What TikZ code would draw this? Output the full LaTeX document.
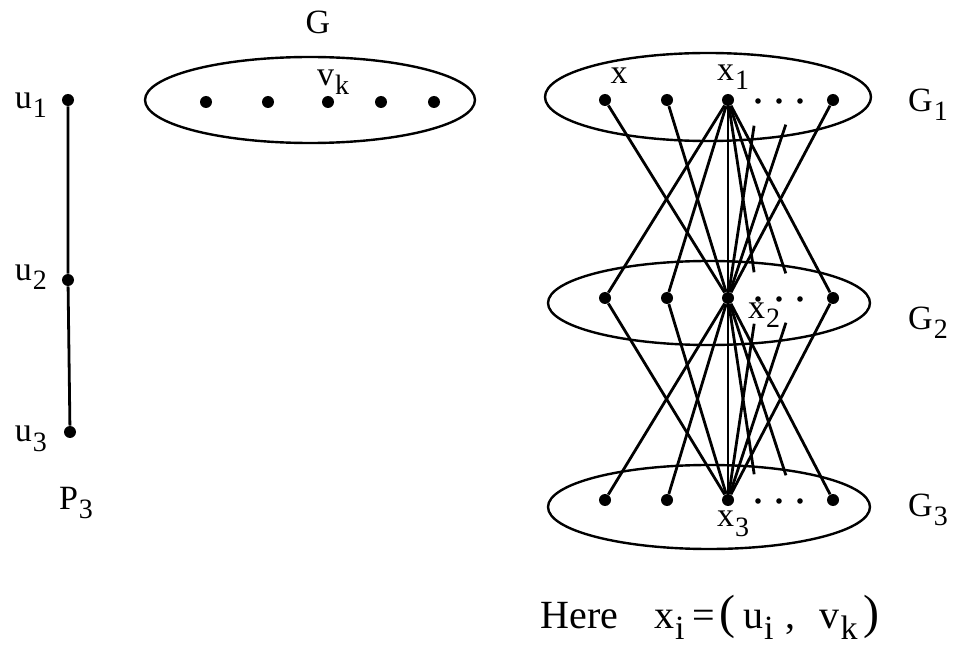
\documentclass[tikz,border=0pt]{standalone}
\usepackage{fontspec}
\setmainfont{Liberation Serif}
\usepackage{tikz}
\usetikzlibrary{shapes.geometric}
\newcommand{\idx}[3][14]{%  \idx[size]{letter}{index}
  #2\kern0.5pt\raisebox{-0.6ex}{\fontsize{#1}{#1}\selectfont #3}}
\tikzset{
  vtx/.style={circle, fill=black, inner sep=0pt, minimum size=6pt},
  dotv/.style={circle, fill=black, inner sep=0pt, minimum size=2.8pt},
  set/.style={ellipse, draw=black, line width=1.2pt, inner sep=0pt},
  edge/.style={line width=1.4pt},
  lbl/.style={font=\fontsize{17}{20}\selectfont, inner sep=0pt},
}

\begin{document}
\begin{tikzpicture}[x=0.5pt, y=-0.5pt]
        \useasboundingbox (0,0) rectangle (955,647);
        % Path P_3
        \node[vtx] (u1) at (68,100) {};
        \node[vtx] (u2) at (68,280) {};
        \node[vtx] (u3) at (70,432) {};
        \draw[edge] (u1) -- (u2) -- (u3);
        \node[lbl] (lu1) at (31,105) {\idx{u}{1}};
        \node[lbl] (lu2) at (31,277) {\idx{u}{2}};
        \node[lbl] (lu3) at (31,439) {\idx{u}{3}};
        \node[lbl] (lp3) at (76,503) {\idx{P}{3}};
        % Graph G
        \node[set, minimum width=165pt, minimum height=43pt] (G) at (310,100) {};
        \node[lbl] (lG) at (318,22) {G};
        \node[vtx] (v1) at (206,102) {};
        \node[vtx] (v2) at (268,102) {};
        \node[vtx] (v3) at (328,102) {};
        \node[vtx] (v4) at (381,102) {};
        \node[vtx] (v5) at (434,102) {};
        \node[lbl] (lvk) at (333,82) {\idx{v}{k}};
        % Copies G_1 G_2 G_3
        \node[set, minimum width=163pt, minimum height=44pt] (G1) at (708,97) {};
        \node[set, minimum width=161pt, minimum height=42pt] (G2) at (709,303) {};
        \node[set, minimum width=161pt, minimum height=42pt] (G3) at (709,507) {};
        \node[lbl] (lG1) at (928,105) {\idx{G}{1}};
        \node[lbl] (lG2) at (928,323) {\idx{G}{2}};
        \node[lbl] (lG3) at (928,510) {\idx{G}{3}};
        \foreach \l/\y in {1/100,2/298,3/500} {
          \node[vtx] (g\l-1) at (605,\y) {};
          \node[vtx] (g\l-2) at (667,\y) {};
          \node[vtx] (g\l-3) at (728,\y) {};
          \node[vtx] (g\l-4) at (833,\y) {};
          \node[dotv] (d\l-1) at (758,\y+1) {};
          \node[dotv] (d\l-2) at (779,\y+1) {};
          \node[dotv] (d\l-3) at (800,\y+1) {};
          \coordinate (h\l-1) at (758,\y);
          \coordinate (h\l-2) at (794,\y);
        }
        \node[lbl] (lx) at (619,76) {x};
        \node[lbl] (lx1) at (733,77) {\idx{x}{1}};
        \node[lbl] (lx2) at (764,315) {\idx{x}{2}};
        \node[lbl] (lx3) at (733,524) {\idx{x}{3}};
        % Edges between consecutive copies
        \foreach \a/\b in {1/2,2/3} {
          \draw[edge] (g\a-1) -- (g\b-3);
          \draw[edge] (g\a-2) -- (g\b-3);
          \draw[edge] (g\a-4) -- (g\b-3);
          \draw[edge] (g\a-3) -- (g\b-1);
          \draw[edge] (g\a-3) -- (g\b-2);
          \draw[edge] (g\a-3) -- (g\b-3);
          \draw[edge] (g\a-3) -- (g\b-4);
          \draw[edge, shorten >=13pt] (g\a-3) -- (h\b-1);
          \draw[edge, shorten >=13pt] (g\a-3) -- (h\b-2);
          \draw[edge, shorten <=13pt] (h\a-1) -- (g\b-3);
          \draw[edge, shorten <=13pt] (h\a-2) -- (g\b-3);
        }
        % Note
        \node[font=\fontsize{20}{24}\selectfont, inner sep=0pt, anchor=west] (note)
              at (540,617) {Here\hspace{0.9em}\idx[17]{x}{i}\hspace{0.2em}=\hspace{0.1em}{\fontsize{24}{24}\selectfont(}\hspace{0.2em}\idx[17]{u}{i}\hspace{0.3em},\hspace{0.6em}\idx[17]{v}{k}\hspace{0.15em}{\fontsize{24}{24}\selectfont)}};
      \end{tikzpicture}
\end{document}
